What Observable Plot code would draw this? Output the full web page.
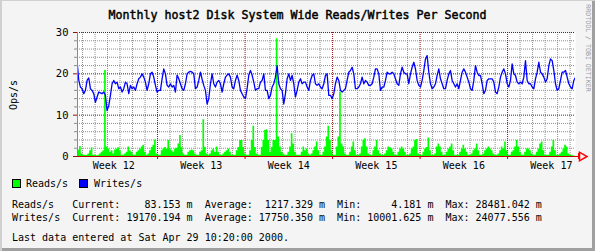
<!DOCTYPE html>
<html>
<head>
<meta charset="utf-8">
<script src="https://cdn.jsdelivr.net/npm/d3@7"></script>
<script src="https://cdn.jsdelivr.net/npm/@observablehq/plot@0.6"></script>
<style>
html,body{margin:0;padding:0;background:#fff}
#frame{position:relative;width:595px;height:251px;background:#f4f4f4;overflow:hidden;
  box-shadow:inset 2px 1px 0 #d0d0d0, inset -3px -3px 0 #a0a0a0;
  font-family:"DejaVu Sans Mono",monospace;color:#000}
#chart{position:absolute;left:0;top:0}
.abs{position:absolute;white-space:pre;line-height:13px;font-size:10px}
#title{position:absolute;left:0;top:6px;width:595px;text-align:center;white-space:pre;line-height:16px}
#titleText{font-family:"DejaVu Sans Mono",monospace;font-size:11.6px;-webkit-text-stroke:0.45px #000}
#ylab{position:absolute;left:13px;top:95px;transform:translate(-50%,-50%) rotate(-90deg);font-size:10px;white-space:pre}
#credit{position:absolute;left:588px;top:48px;transform:translate(-50%,-50%) rotate(90deg);font-size:6.6px;color:#9a9a9a;white-space:pre}
.sw{position:absolute;width:7px;height:7px;border:1px solid #000}
</style>
</head>
<body>
<div id="frame">
  <div id="chart"></div>
  <div id="title"><span id="titleText"></span></div>
  <div id="ylab"></div>
  <div id="credit"></div>
  <div class="sw" id="sw0" style="left:12px;top:179px"></div>
  <div class="abs" id="lg0" style="left:26px;top:176.5px"></div>
  <div class="sw" id="sw1" style="left:79px;top:179px"></div>
  <div class="abs" id="lg1" style="left:94px;top:176.5px"></div>
  <div class="abs" id="stats" style="left:12px;top:197.5px"></div>
  <div class="abs" id="last" style="left:12px;top:230.5px"></div>
</div>
<script>
// ---- text ----
const titleText = "Monthly host2 Disk System Wide Reads/Writes Per Second";
const yLabel = "Ops/s";
const creditText = "RRDTOOL / TOBI OETIKER";
const seriesNames = ["Reads/s", "Writes/s"];
const seriesColors = ["#00ff00", "#0000ff"];
const statCurrent = ["83.153", "19170.194"];
const statAverage = ["1217.329", "17750.350"];
const statMin = ["4.181", "10001.625"];
const statMax = ["28481.042", "24077.556"];
const lastUpdate = "Last data entered at Sat Apr 29 10:20:00 2000.";

// ---- axes ----
const yMajorTicks = [0, 10, 20, 30];
const yMinorTicks = [2, 4, 6, 8, 12, 14, 16, 18, 22, 24, 26, 28];
const weekStarts = ["2000-03-27", "2000-04-03", "2000-04-10", "2000-04-17", "2000-04-24"];
const weekLabelDates = ["2000-03-23T12:00Z", "2000-03-30T12:00Z", "2000-04-06T12:00Z", "2000-04-13T12:00Z", "2000-04-20T12:00Z", "2000-04-27T12:00Z"];
const weekLabels = ["Week 12", "Week 13", "Week 14", "Week 15", "Week 16", "Week 17"];
const rangeStart = "2000-03-20T14:20Z";
const rangeEnd = "2000-04-29T10:20Z";
const stepHours = 3.2;

// ---- series (ops/s), oldest first, one value per step ----
const writes = [
23,18.5,16.8,16.4,15.2,16,18.4,19,16.4,16,15.2,13.1,14.4,15.6,15.4,15.2,15.6,14.8,11.1,12.3,
14.8,17.6,18.4,17.6,18,16.4,16.8,15.6,16.4,18,17.6,15.2,17.2,16.4,16.8,16,17.6,18.8,19.2,20,
19.2,18,16,17.6,20,20.4,19.2,17.2,15.6,16,16,18.8,21.2,20,17.2,16.8,17.6,16.8,17.2,15.6,
19.7,18.8,17.6,16.4,16,17.6,20,20.4,20.6,20.4,20,16.4,16.8,18.4,20.4,18.7,17.2,16,12.7,14,
17.6,20,17.6,16.8,18,18.4,17.6,15.6,17.6,19.2,19.7,20,19.2,16.8,16.4,18.4,19.7,18.4,16,15.2,
14.4,14,16.4,19.7,20.8,19.7,18,16,16.4,16.4,18,18.4,20,16,16,14,14.8,16.8,17.6,19.2,
22,17.6,16.4,16,12.7,15.2,18.8,20,18.4,19.6,17.6,14.4,16,18,18.8,17.6,18,18,16.8,16,
18.4,19.6,20,17.6,17.2,17.6,16.8,16.4,17.6,19.6,20,14.8,14.8,14,15.2,17.6,19.2,18.4,16,15.6,
16,16.4,18.4,20.4,20.8,21.6,20,16.4,16.4,16.8,17.6,19.2,17.6,18.4,18,17.2,17.2,17.6,19.2,21.2,
21.2,20,16,16.8,16.8,18.4,20.4,20,20,20.4,20,18.8,17.6,17.2,20,21.6,20.4,20,20,17.6,
20,21.6,22.8,21.2,18.4,17.2,16.8,18.4,20.8,23.6,24.4,20.4,17.6,16.4,16.8,17.6,19.6,21.2,18.8,17.6,
16.4,16.4,18.4,20,20.8,18.4,17.6,16.8,17.6,16.4,18.4,20.4,21.2,20.4,19.2,18,16.4,16,18.4,22,
20.4,19.6,19.6,17.6,15.2,16,18.4,18.8,18.8,18.8,18,15.6,15.2,16.8,19.2,20.4,21.2,20,17.6,16.8,
18.4,22.4,20,19.6,18,17.6,18,17.6,19.2,23.2,18.4,17.6,17.6,16.8,16.4,18.8,20.4,22.8,20.4,20,
19.2,18,18.8,22,23.6,23.2,20.8,17.6,16,16.4,18.4,20.4,20.4,20.8,19.2,17.6,16.8,16.4,18.4,19.17
];
const reads = [
1.8,1.6,2.4,0.6,0.3,0.3,0.3,0.6,1.4,2.1,0.3,0.3,0.2,0.3,0.6,1,1.4,20.8,2.3,1.8,
1,1.4,0.6,1.6,1.8,2.1,1.4,0.3,0.3,0.6,1,2.3,1.4,1,0.3,0.3,1,1.4,1.8,2.3,
2.7,1,0.3,0.6,1.4,2.2,2.7,4,0.6,0.3,0.3,1.4,1.8,2.2,1.8,3.9,1.8,1.4,1,1.8,
2,3,5.1,2.2,0.6,0.3,0.3,1,1.4,1.6,1.4,0.6,0.3,0.3,1,1.4,8.9,2.2,0.6,0.3,
0.6,1.4,1.8,1,2.3,1,0.3,0.3,0.6,1,1.4,1.8,1,0.3,0.3,0.3,1.4,2.2,3.9,3.9,
2.2,0.6,0.3,0.3,1.4,3.9,7.3,2.2,0.6,0.3,0.3,2.2,3.9,6.3,6.5,3.9,1,2.2,3.9,3.9,
28.48,4.7,2.3,1,0.6,0.3,0.3,1,2.3,5.5,3,1,0.3,0.3,0.3,1,2.3,1.4,1.8,0.6,
0.3,0.6,1.4,2.3,3.5,1.4,0.3,0.3,1,2.3,4.7,7.3,3.9,1.4,0.3,0.3,2.3,4.7,15.6,3,
2.3,0.6,0.3,0.3,1,2.3,3.5,1.4,0.3,0.3,0.6,2.3,3.9,4.3,2.3,0.6,0.3,0.3,1.4,2.3,
3.9,1.4,0.6,0.3,0.3,0.6,1.4,2.3,2.1,1.8,1,0.3,0.3,1,1.8,2.3,1.8,1,0.3,0.3,
0.6,1.8,2.3,3.9,4.1,0.6,0.3,0.3,1,1.8,2.2,4.5,1.4,0.3,0.3,0.6,2.3,3,2.3,1,
0.3,0.3,1,1.8,2.3,3,1.4,0.3,0.3,0.3,1,1.8,2.7,1.8,1,0.3,0.3,0.6,1.4,1.8,
3,1.4,0.3,0.3,0.6,1.4,1.8,2.3,1.8,1.4,0.6,0.3,0.3,0.6,1.4,2.3,1.8,3.5,1.4,0.3,
0.3,1,1.4,2.3,3.9,2.3,1,0.3,0.3,1,1.8,1.8,1.4,0.6,0.3,0.3,1,1.8,3,3.5,
1.4,0.3,0.3,0.3,1,2.3,3.9,1.4,0.3,0.3,0.6,1,1.8,2.7,2.3,0.6,0.3,0.3,0.1,0.083
];

// ---- build ----
const t0 = new Date(rangeStart), t1 = new Date(rangeEnd);
const stepMs = stepHours * 3600e3;
const data = writes.map((w, i) => ({
  t: new Date(+t1 - (writes.length - 1 - i) * stepMs),
  writes: w,
  reads: reads[i]
}));
const W = 595, H = 172;
const mL = 77, mR = 20, mT = 32, mB = 16;
const pxPerMs = (W - mL - mR) / (t1 - t0);
const px = n => n / pxPerMs;           // pixel offset -> time offset
const pxY = n => n * 30 / (H - mT - mB); // pixel offset -> value offset
const weeks = weekStarts.map(d => new Date(d + "T00:00Z"));
const weekSet = new Set(weeks.map(d => +d));
const days = d3.utcDay.range(d3.utcDay.ceil(t0), t1).filter(d => !weekSet.has(+d));
const labelDates = weekLabelDates.map(d => new Date(d));
const labelMap = new Map(labelDates.map((d, i) => [+d, weekLabels[i]]));
const minorCol = "#8e8e8e", majorCol = "#8c1010", axisRed = "#c00000";

const chart = Plot.plot({
  width: W, height: H,
  marginLeft: mL, marginRight: mR, marginTop: mT, marginBottom: mB,
  style: {background: "transparent", fontFamily: '"DejaVu Sans Mono", monospace', fontSize: "10px", overflow: "visible", color: "#000"},
  x: {type: "utc", domain: [t0, t1]},
  y: {domain: [0, 30]},
  marks: [
    Plot.frame({fill: "#ffffff", stroke: null}),
    Plot.ruleY(yMinorTicks, {stroke: minorCol, strokeDasharray: "1,1"}),
    Plot.ruleX(days, {stroke: minorCol, strokeDasharray: "1,1"}),
    Plot.ruleY(yMajorTicks.filter(v => v > 0), {stroke: majorCol, strokeDasharray: "1,1"}),
    Plot.ruleX(weeks, {stroke: majorCol, strokeDasharray: "1,1"}),
    Plot.areaY(data, {x: "t", y: "reads", fill: seriesColors[0], curve: "step", clip: true}),
    Plot.lineY(data, {x: "t", y: "writes", stroke: seriesColors[1], strokeWidth: 1.3, clip: true}),
    // tick stubs
    Plot.ruleY(yMinorTicks, {x1: new Date(+t0 - px(3)), x2: t0, stroke: minorCol}),
    Plot.ruleY(yMajorTicks, {x1: new Date(+t0 - px(4)), x2: t0, stroke: majorCol}),
    Plot.ruleX(weeks, {y1: 0, y2: -pxY(3), stroke: axisRed}),
    // axis lines
    Plot.ruleX([t0], {stroke: "#8a8a8a"}),
    Plot.ruleY([0], {x1: t0, x2: new Date(+t1 + px(3)), stroke: axisRed}),
    Plot.ruleX([new Date(+t1 + px(3))], {y1: -pxY(3), y2: pxY(3), stroke: "#ff0000"}),
    Plot.dot([new Date(+t1 + px(6.5))], {x: d => d, y: 0, symbol: "triangle", rotate: 90, r: 3.2, stroke: "#ff0000", fill: "none"}),
    Plot.axisY({ticks: yMajorTicks, tickSize: 0, tickPadding: 9, label: null, fontSize: 10.5}),
    Plot.axisX({ticks: labelDates, tickSize: 0, tickPadding: 5, label: null, tickFormat: d => labelMap.get(+d)})
  ]
});
document.getElementById("chart").append(chart);

const tEl = document.getElementById("titleText");
tEl.textContent = titleText;
// fit title to the reference width (about 378px), whatever monospace font resolves
const tw = tEl.getBoundingClientRect().width;
if (tw > 0) tEl.style.fontSize = (11.6 * 378 / tw).toFixed(2) + "px";
document.getElementById("ylab").textContent = yLabel;
document.getElementById("credit").textContent = creditText;
document.getElementById("sw0").style.background = seriesColors[0];
document.getElementById("sw1").style.background = seriesColors[1];
document.getElementById("lg0").textContent = seriesNames[0];
document.getElementById("lg1").textContent = seriesNames[1];
const rows = seriesNames.map((n, i) =>
  n.padEnd(10) + "Current: " + statCurrent[i].padStart(9) + " m  " +
  "Average: " + statAverage[i].padStart(9) + " m  " +
  "Min: " + statMin[i].padStart(9) + " m  " +
  "Max: " + statMax[i].padStart(9) + " m");
document.getElementById("stats").textContent = rows.join("\n");
document.getElementById("last").textContent = lastUpdate;
</script>
</body>
</html>
